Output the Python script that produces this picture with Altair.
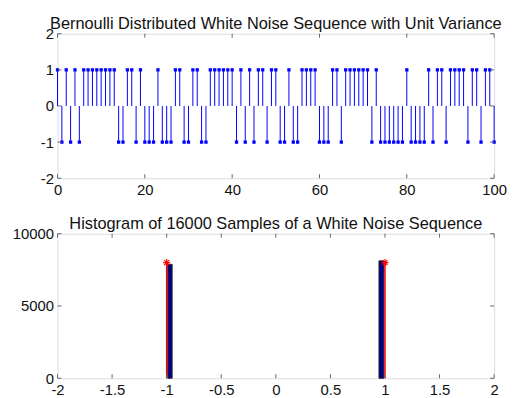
import altair as alt
import pandas as pd

# ---------------- data ----------------
sample_index = list(range(101))
noise_values = [
    1, -1, 1, -1, 1, -1, 1, 1, 1, 1, 1, 1, 1, 1, -1, -1, 1, 1, -1, 1, -1, -1, -1, 1, -1, -1,
    -1, 1, 1, -1, -1, 1, 1, -1, -1, 1, 1, 1, 1, 1, 1, -1, 1, -1, 1, -1, 1, 1, -1, 1, 1,
    -1, -1, 1, -1, -1, 1, 1, 1, 1, -1, -1, -1, 1, 1, -1, 1, 1, 1, 1, 1, 1, -1, 1, -1, -1,
    -1, -1, -1, -1, 1, -1, -1, -1, -1, 1, -1, 1, 1, -1, 1, 1, 1, 1, -1, 1, 1, -1, 1, 1, -1,
]
top_x_ticks = [0, 20, 40, 60, 80, 100]
top_y_ticks = [-2, -1, 0, 1, 2]

hist_left = [-0.99, 0.945]
hist_right = [-0.95, 0.99]
hist_counts = [7880, 8120]
theory_x = [-1, 1]
theory_counts = [8000, 8000]
bot_x_ticks = [-2, -1.5, -1, -0.5, 0, 0.5, 1, 1.5, 2]
bot_y_ticks = [0, 5000, 10000]

top_title = "Bernoulli Distributed White Noise Sequence with Unit Variance"
bot_title = "Histogram of 16000 Samples of a White Noise Sequence"

# ---------------- styling ----------------
W, H = 441, 146
FONT = "Liberation Sans"
AXC = "#666666"
TICK = 4


def mk_axis(vals):
    return alt.Axis(values=vals, title=None, grid=False, domain=False, ticks=False,
                    labelFont=FONT, labelFontSize=15, labelColor="#111111",
                    labelPadding=4, labelExpr="datum.value + ''", labelFlush=False,
                    labelOverlap=False)


def inward_ticks(xt, yt, xs, ys, xaxis, yaxis):
    tx = pd.DataFrame({"t": xt})
    ty = pd.DataFrame({"t": yt})
    base_x = alt.Chart(tx).mark_rule(color=AXC, strokeWidth=1)
    base_y = alt.Chart(ty).mark_rule(color=AXC, strokeWidth=1)
    xb = base_x.encode(x=alt.X("t:Q", scale=xs, axis=xaxis), y=alt.value(H), y2=alt.value(H - TICK))
    xt_ = base_x.encode(x=alt.X("t:Q", scale=xs, axis=xaxis), y=alt.value(0), y2=alt.value(TICK))
    yl = base_y.encode(y=alt.Y("t:Q", scale=ys, axis=yaxis), x=alt.value(0), x2=alt.value(TICK))
    yr = base_y.encode(y=alt.Y("t:Q", scale=ys, axis=yaxis), x=alt.value(W), x2=alt.value(W - TICK))
    return [xb, xt_, yl, yr]


def title_params(text):
    return alt.TitleParams(text, font=FONT, fontSize=16.5, fontWeight="normal",
                           color="#111111", offset=-6, anchor="middle", frame="group")


# ---------------- top panel ----------------
xs_top = alt.Scale(domain=[0, 100], nice=False, zero=False)
ys_top = alt.Scale(domain=[-2, 2], nice=False, zero=False)
xa_top = mk_axis(top_x_ticks)
ya_top = mk_axis(top_y_ticks)

stem_df = pd.DataFrame({"n": sample_index, "v": noise_values})
stems = alt.Chart(stem_df).mark_rule(color="#0000ff", strokeWidth=1).encode(
    x=alt.X("n:Q", scale=xs_top, axis=xa_top),
    y=alt.Y("v:Q", scale=ys_top, axis=ya_top),
    y2=alt.datum(0),
)
markers = alt.Chart(stem_df).mark_square(color="#0000ff", size=11, opacity=1).encode(
    x=alt.X("n:Q", scale=xs_top, axis=xa_top),
    y=alt.Y("v:Q", scale=ys_top, axis=ya_top),
)
top = alt.layer(stems, markers, *inward_ticks(top_x_ticks, top_y_ticks, xs_top, ys_top, xa_top, ya_top)).properties(
    width=W, height=H, title=title_params(top_title))

# ---------------- bottom panel ----------------
xs_bot = alt.Scale(domain=[-2, 2], nice=False, zero=False)
ys_bot = alt.Scale(domain=[0, 10000], nice=False)
xa_bot = mk_axis(bot_x_ticks)
ya_bot = mk_axis(bot_y_ticks)

hist_df = pd.DataFrame({"l": hist_left, "r": hist_right, "c": hist_counts})
bars = alt.Chart(hist_df).mark_rect(fill="#00008b", stroke="#222222", strokeWidth=1).encode(
    x=alt.X("l:Q", scale=xs_bot, axis=xa_bot),
    x2="r:Q",
    y=alt.Y("c:Q", scale=ys_bot, axis=ya_bot),
    y2=alt.datum(0),
)
theory_df = pd.DataFrame({"x": theory_x, "c": theory_counts})
red_stems = alt.Chart(theory_df).mark_rule(color="#ff0000", strokeWidth=1.5).encode(
    x=alt.X("x:Q", scale=xs_bot, axis=xa_bot),
    y=alt.Y("c:Q", scale=ys_bot, axis=ya_bot),
    y2=alt.datum(0),
)
asterisk = "M-1,0L1,0M0,-1L0,1M-0.7,-0.7L0.7,0.7M-0.7,0.7L0.7,-0.7"
stars = alt.Chart(theory_df).mark_point(shape=asterisk, color="#ff0000", filled=False,
                                        size=50, strokeWidth=1.2, opacity=1).encode(
    x=alt.X("x:Q", scale=xs_bot, axis=xa_bot),
    y=alt.Y("c:Q", scale=ys_bot, axis=ya_bot),
)
bottom = alt.layer(bars, red_stems, stars, *inward_ticks(bot_x_ticks, bot_y_ticks, xs_bot, ys_bot, xa_bot, ya_bot)).properties(
    width=W, height=H, title=title_params(bot_title))

chart = alt.vconcat(top, bottom, spacing=56, bounds="flush").properties(
    padding={"left": 3, "top": 6, "right": 0, "bottom": 0}
).configure_view(stroke=AXC, strokeWidth=1).configure(background="white")

chart.save("out.html", embed_options={"renderer": "svg", "actions": False})
